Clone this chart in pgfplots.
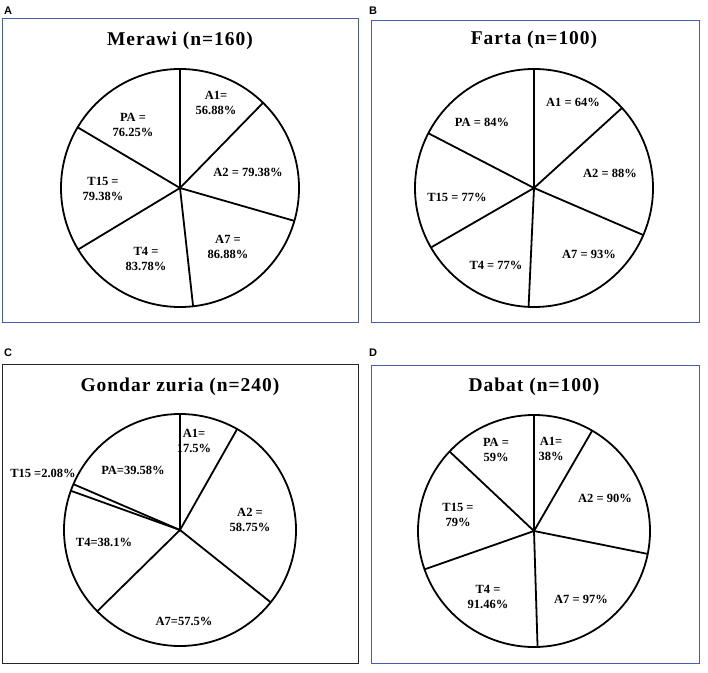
\documentclass[border=0pt]{standalone}
\usepackage{pgfplots}
\pgfplotsset{compat=1.18}
\usepgfplotslibrary{polar}
\usepackage{fontspec}
\setmainfont{Liberation Serif}
\newfontfamily\lettfont{Liberation Sans}
\newfontfamily\ttlfont[LetterSpace=5]{Liberation Serif}
\definecolor{boxblue}{RGB}{72,92,178}
\pgfplotsset{pie/.style={
  scale only axis, width=#1, height=#1,
  xmin=0, xmax=360, ymin=0, ymax=1,
  xtick=\empty, ytick=\empty,
  separate axis lines,
  x axis line style={line width=1.8pt, black},
  y axis line style={draw=none},
  clip=false,
}}
\tikzset{spoke/.style={black, line width=1.8pt, no markers},
  lab/.style={font=\fontsize{12.5}{15}\selectfont\bfseries, align=center, inner sep=0pt},
  ttl/.style={font=\ttlfont\fontsize{19.5}{22}\selectfont\bfseries, inner sep=0pt},
  let/.style={font=\lettfont\fontsize{11}{12}\selectfont\bfseries, inner sep=0pt}}
\begin{document}
\begin{tikzpicture}[x=1pt,y=1pt]
\useasboundingbox (0,0) rectangle (708,672);
% boxes
\draw[boxblue, line width=1pt] (2,349) rectangle (358,653);
\draw[boxblue, line width=1pt] (371,349) rectangle (699,651);
\draw[black!85, line width=1pt] (2,9) rectangle (358,307);
\draw[boxblue, line width=1pt] (371,9) rectangle (699,306);
% panel letters
\node[let] at (8,661) {A};
\node[let] at (373,661) {B};
\node[let] at (8,319) {C};
\node[let] at (373,319) {D};
% titles
\node[ttl] at (180,631) {Merawi (n=160)};
\node[ttl] at (534,632) {Farta (n=100)};
\node[ttl] at (180,285) {Gondar zuria (n=240)};
\node[ttl] at (534,285) {Dabat (n=100)};

% A: Merawi  A1=56.88 A2=79.38 A7=86.88 T4=83.78 T15=79.38 PA=76.25
\begin{polaraxis}[pie=238pt, at={(180pt,484pt)}, anchor=center]
\addplot[spoke] coordinates {(90,0) (90,1)};
\addplot[spoke] coordinates {(45.73,0) (45.73,1)};
\addplot[spoke] coordinates {(-16.05,0) (-16.05,1)};
\addplot[spoke] coordinates {(-83.67,0) (-83.67,1)};
\addplot[spoke] coordinates {(-148.88,0) (-148.88,1)};
\addplot[spoke] coordinates {(149.34,0) (149.34,1)};
\end{polaraxis}
\node[lab] at (216,569) {A1=\\56.88\%};
\node[lab] at (248,500) {A2 = 79.38\%};
\node[lab] at (228,425) {A7 =\\86.88\%};
\node[lab] at (146,413) {T4 =\\83.78\%};
\node[lab] at (103,483) {T15 =\\79.38\%};
\node[lab] at (133,547) {PA =\\76.25\%};

% B: Farta  A1=64 A2=88 A7=93 T4=77 T15=77 PA=84
\begin{polaraxis}[pie=238pt, at={(534pt,484pt)}, anchor=center]
\addplot[spoke] coordinates {(90,0) (90,1)};
\addplot[spoke] coordinates {(42.30,0) (42.30,1)};
\addplot[spoke] coordinates {(-23.29,0) (-23.29,1)};
\addplot[spoke] coordinates {(-92.61,0) (-92.61,1)};
\addplot[spoke] coordinates {(-150.0,0) (-150.0,1)};
\addplot[spoke] coordinates {(152.61,0) (152.61,1)};
\end{polaraxis}
\node[lab] at (573,570) {A1 = 64\%};
\node[lab] at (610,499) {A2 = 88\%};
\node[lab] at (589,418) {A7 = 93\%};
\node[lab] at (496,407) {T4 = 77\%};
\node[lab] at (457,475) {T15 = 77\%};
\node[lab] at (482,550) {PA = 84\%};

% C: Gondar zuria  A1=17.5 A2=58.75 A7=57.5 T4=38.1 T15=2.08 PA=39.58
\begin{polaraxis}[pie=232pt, at={(180pt,142pt)}, anchor=center]
\addplot[spoke] coordinates {(90,0) (90,1)};
\addplot[spoke] coordinates {(60.49,0) (60.49,1)};
\addplot[spoke] coordinates {(-38.57,0) (-38.57,1)};
\addplot[spoke] coordinates {(-135.52,0) (-135.52,1)};
\addplot[spoke] coordinates {(-199.76,0) (-199.76,1)};
\addplot[spoke] coordinates {(-203.27,0) (-203.27,1)};
\end{polaraxis}
\node[lab] at (194,231) {A1=\\17.5\%};
\node[lab] at (250,152) {A2 =\\58.75\%};
\node[lab] at (184,51) {A7=57.5\%};
\node[lab] at (104,130) {T4=38.1\%};
\node[lab] at (43,199) {T15 =2.08\%};
\node[lab] at (133,202) {PA=39.58\%};

% D: Dabat  A1=38 A2=90 A7=97 T4=91.46 T15=79 PA=59
\begin{polaraxis}[pie=232pt, at={(534pt,141pt)}, anchor=center]
\addplot[spoke] coordinates {(90,0) (90,1)};
\addplot[spoke] coordinates {(59.90,0) (59.90,1)};
\addplot[spoke] coordinates {(-11.40,0) (-11.40,1)};
\addplot[spoke] coordinates {(-88.24,0) (-88.24,1)};
\addplot[spoke] coordinates {(-160.69,0) (-160.69,1)};
\addplot[spoke] coordinates {(136.73,0) (136.73,1)};
\end{polaraxis}
\node[lab] at (551,223) {A1=\\38\%};
\node[lab] at (605,174) {A2 = 90\%};
\node[lab] at (581,73) {A7 = 97\%};
\node[lab] at (488,75) {T4 =\\91.46\%};
\node[lab] at (458,157) {T15 =\\79\%};
\node[lab] at (496,222) {PA =\\59\%};
\end{tikzpicture}
\end{document}
